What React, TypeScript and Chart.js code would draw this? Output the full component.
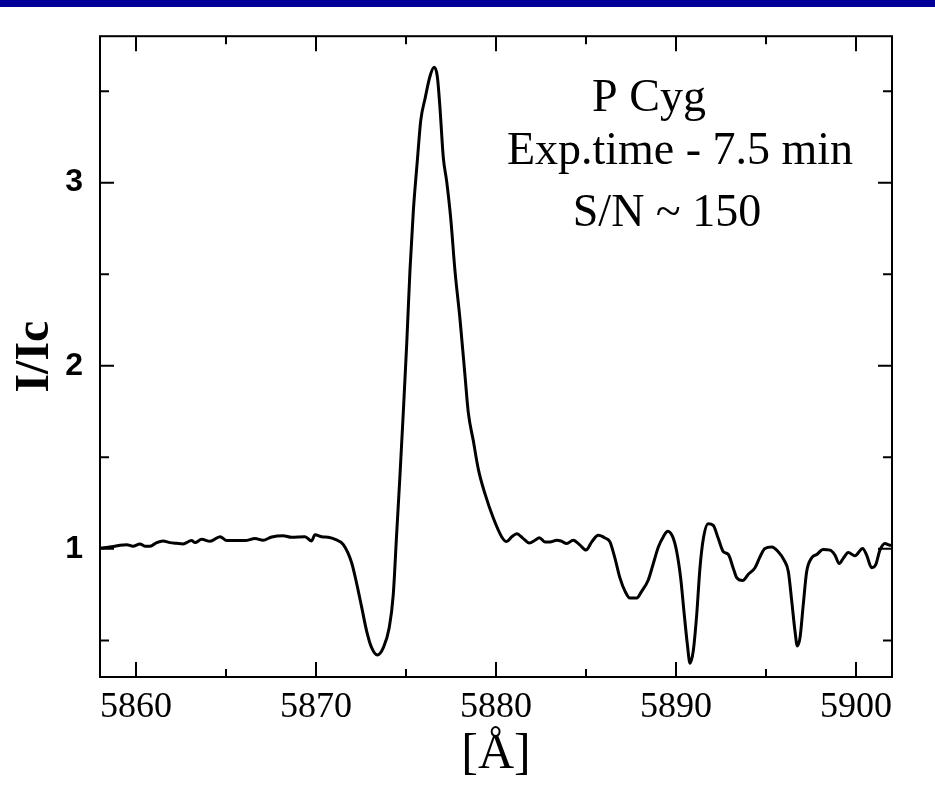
import React, { useEffect, useRef } from "react";
import { Chart, registerables } from "chart.js";

Chart.register(...registerables);

// Wavelength (Å) and normalised intensity I/Ic
const wavelengths = [
  5858.0, 5858.09, 5858.83, 5859.11, 5859.48, 5859.83, 5860.22, 5860.5, 5860.78, 5861.15,
  5861.5, 5861.89, 5862.26, 5862.61, 5863.09, 5863.28, 5863.65, 5864.11, 5864.67, 5865.04,
  5866.06, 5866.61, 5867.06, 5867.54, 5868.17, 5868.65, 5869.39, 5869.76, 5869.94, 5870.32,
  5870.67, 5871.06, 5871.52, 5871.98, 5872.26, 5872.54, 5872.82, 5873.09, 5873.41, 5873.74,
  5874.07, 5874.29, 5874.48, 5874.67, 5874.85, 5875.04, 5875.22, 5875.41, 5875.63, 5875.82,
  5876.06, 5876.33, 5876.56, 5876.74, 5876.89, 5877.07, 5877.26, 5877.48, 5877.72, 5878.0,
  5878.28, 5878.46, 5878.74, 5879.02, 5879.39, 5879.85, 5880.32, 5880.59, 5880.87, 5881.15,
  5881.52, 5881.85, 5882.17, 5882.41, 5882.72, 5883.0, 5883.37, 5883.61, 5883.93, 5884.29,
  5884.67, 5885.0, 5885.32, 5885.68, 5886.06, 5886.33, 5886.61, 5886.89, 5887.17, 5887.44,
  5887.82, 5888.09, 5888.46, 5888.74, 5889.02, 5889.29, 5889.54, 5889.82, 5890.04, 5890.26,
  5890.44, 5890.63, 5890.78, 5890.96, 5891.15, 5891.33, 5891.52, 5891.79, 5892.07, 5892.35,
  5892.63, 5892.91, 5893.18, 5893.37, 5893.71, 5894.02, 5894.39, 5894.67, 5894.94, 5895.32,
  5895.68, 5896.0, 5896.24, 5896.43, 5896.61, 5896.74, 5896.89, 5897.07, 5897.26, 5897.54,
  5897.82, 5898.18, 5898.56, 5898.83, 5899.07, 5899.29, 5899.57, 5899.94, 5900.37, 5900.59,
  5900.87, 5901.09, 5901.33, 5901.61, 5901.89, 5902.0,
];

const intensities = [
  1.005, 1.005, 1.014, 1.02, 1.023, 1.014, 1.027, 1.014, 1.014, 1.034,
  1.043, 1.034, 1.03, 1.027, 1.045, 1.034, 1.052, 1.041, 1.066, 1.045,
  1.045, 1.056, 1.047, 1.065, 1.072, 1.063, 1.066, 1.043, 1.077, 1.066,
  1.063, 1.052, 1.023, 0.924, 0.81, 0.68, 0.548, 0.46, 0.42, 0.46,
  0.57, 0.747, 1.08, 1.41, 1.746, 2.12, 2.52, 2.85, 3.12, 3.34,
  3.46, 3.58, 3.63, 3.58, 3.405, 3.14, 3.007, 2.81, 2.52, 2.254,
  1.943, 1.745, 1.59, 1.434, 1.3, 1.168, 1.065, 1.04, 1.065, 1.083,
  1.056, 1.032, 1.047, 1.061, 1.038, 1.038, 1.047, 1.043, 1.029, 1.047,
  1.02, 0.993, 1.038, 1.074, 1.059, 1.038, 0.948, 0.84, 0.768, 0.731,
  0.731, 0.768, 0.83, 0.92, 1.01, 1.065, 1.096, 1.065, 0.984, 0.84,
  0.66, 0.479, 0.375, 0.443, 0.64, 0.894, 1.056, 1.137, 1.128, 1.056,
  0.984, 0.969, 0.894, 0.843, 0.827, 0.861, 0.897, 0.957, 1.002, 1.01,
  0.984, 0.939, 0.876, 0.714, 0.551, 0.47, 0.515, 0.695, 0.876, 0.951,
  0.969, 0.996, 0.993, 0.966, 0.92, 0.948, 0.98, 0.962, 1.002, 0.966,
  0.897, 0.912, 0.993, 1.029, 1.02, 1.02,
];

const xTickValues = [5860, 5865, 5870, 5875, 5880, 5885, 5890, 5895, 5900];
const xLabelStep = 10;
const yTickValues = [0.5, 1, 1.5, 2, 2.5, 3, 3.5];
const xTitle = "[Å]";
const yTitle = "I/Ic";
const annotationLines = ["P Cyg", "Exp.time - 7.5 min", "S/N ~ 150"];

const SERIF = '"Liberation Serif", "Times New Roman", serif';
const SANS = '"Liberation Sans", Arial, sans-serif';

const framePlugin = {
  id: "frame",
  afterDraw(chart: any) {
    const { ctx, chartArea: a, scales } = chart;
    const x = scales.x;
    const y = scales.y;
    ctx.save();
    ctx.strokeStyle = "#000";
    ctx.lineWidth = 2;
    ctx.strokeRect(a.left, a.top, a.right - a.left, a.bottom - a.top);
    ctx.beginPath();
    for (const v of xTickValues) {
      const px = x.getPixelForValue(v);
      const len = v % xLabelStep === 0 ? 15 : 8;
      ctx.moveTo(px, a.bottom);
      ctx.lineTo(px, a.bottom - len);
      ctx.moveTo(px, a.top);
      ctx.lineTo(px, a.top + len);
    }
    for (const v of yTickValues) {
      const py = y.getPixelForValue(v);
      const len = Number.isInteger(v) ? 14 : 9;
      ctx.moveTo(a.left, py);
      ctx.lineTo(a.left + len, py);
      ctx.moveTo(a.right, py);
      ctx.lineTo(a.right - len, py);
    }
    ctx.stroke();

    // annotation text block (centred lines)
    const spots = [
      { cx: 549, by: 111 },
      { cx: 580, by: 164 },
      { cx: 567, by: 226 },
    ];
    ctx.fillStyle = "#000";
    ctx.font = `46px ${SERIF}`;
    ctx.textBaseline = "alphabetic";
    ctx.textAlign = "center";
    annotationLines.forEach((t, i) => {
      ctx.fillText(t, a.left + spots[i].cx, spots[i].by);
    });
    ctx.restore();
  },
};

export default function App() {
  const ref = useRef<HTMLCanvasElement | null>(null);

  useEffect(() => {
    if (!ref.current) return;
    const points = wavelengths.map((w, i) => ({ x: w, y: intensities[i] }));
    const chart = new Chart(ref.current, {
      type: "line",
      data: {
        datasets: [
          {
            data: points,
            borderColor: "#000",
            borderWidth: 3,
            pointRadius: 0,
            fill: false,
            cubicInterpolationMode: "monotone",
          },
        ],
      },
      options: {
        animation: false,
        responsive: false,
        devicePixelRatio: 1,
        layout: { padding: { top: 29, right: 43, left: 0, bottom: 0 } },
        plugins: { legend: { display: false }, tooltip: { enabled: false } },
        scales: {
          x: {
            type: "linear",
            min: 5858,
            max: 5902,
            afterBuildTicks: (s: any) => {
              s.ticks = xTickValues.map((v) => ({ value: v }));
            },
            afterFit: (s: any) => {
              s.height = 126;
            },
            grid: { display: false, drawTicks: false },
            border: { display: false },
            ticks: {
              autoSkip: false,
              maxRotation: 0,
              padding: 9,
              color: "#000",
              font: { family: SERIF, size: 36 },
              callback: (v: any) => (Number(v) % xLabelStep === 0 ? String(v) : ""),
            },
            title: {
              display: true,
              text: xTitle,
              color: "#000",
              font: { family: SERIF, size: 50 },
              padding: { top: 0, bottom: 18 },
            },
          },
          y: {
            type: "linear",
            min: 0.3,
            max: 3.8,
            afterBuildTicks: (s: any) => {
              s.ticks = yTickValues.map((v) => ({ value: v }));
            },
            afterFit: (s: any) => {
              s.width = 100;
            },
            grid: { display: false, drawTicks: false },
            border: { display: false },
            ticks: {
              autoSkip: false,
              padding: 17,
              color: "#000",
              font: { family: SANS, size: 32, weight: "bold" },
              callback: (v: any) => (Number.isInteger(Number(v)) ? String(v) : ""),
            },
            title: {
              display: true,
              text: yTitle,
              color: "#000",
              font: { family: SERIF, size: 48, weight: "bold" },
              padding: { top: 7, bottom: 0 },
            },
          },
        },
      },
      plugins: [framePlugin],
    } as any);
    return () => chart.destroy();
  }, []);

  return (
    <div style={{ position: "fixed", left: 0, top: 0, width: 935, height: 803, background: "#fff" }}>
      <div style={{ position: "absolute", left: 0, top: 0, width: 935, height: 7, background: "#000099" }} />
      <canvas ref={ref} width={935} height={803} style={{ display: "block", width: 935, height: 803 }} />
    </div>
  );
}
